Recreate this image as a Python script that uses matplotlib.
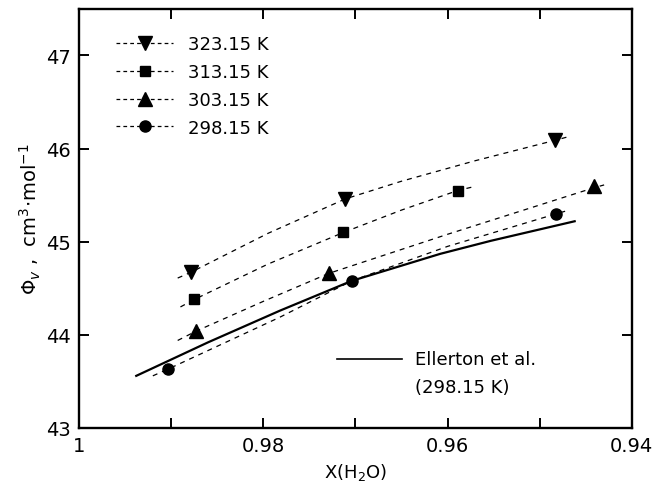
import numpy as np
import matplotlib
matplotlib.use("Agg")
import matplotlib.pyplot as plt
from matplotlib.lines import Line2D

# marker points
x_323 = [0.9879, 0.9711, 0.9483]
y_323 = [44.67, 45.46, 46.09]
x_313 = [0.9875, 0.9713, 0.9589]
y_313 = [44.38, 45.10, 45.55]
x_303 = [0.9873, 0.9729, 0.9441]
y_303 = [44.04, 44.66, 45.60]
x_298 = [0.9904, 0.9704, 0.9482]
y_298 = [43.63, 44.58, 45.30]

# dashed curves
cx_323 = [0.9893, 0.9879, 0.9795, 0.9711, 0.9650, 0.9570, 0.9483, 0.9468]
cy_323 = [44.61, 44.67, 45.09, 45.46, 45.65, 45.87, 46.09, 46.13]
cx_313 = [0.9890, 0.9875, 0.9795, 0.9713, 0.9650, 0.9589, 0.9572]
cy_313 = [44.30, 44.38, 44.76, 45.10, 45.34, 45.55, 45.59]
cx_303 = [0.9893, 0.9873, 0.9800, 0.9729, 0.9600, 0.9441, 0.9430]
cy_303 = [43.94, 44.04, 44.36, 44.66, 45.08, 45.58, 45.61]
cx_298 = [0.9920, 0.9904, 0.9782, 0.9704, 0.9600, 0.9482, 0.9468]
cy_298 = [43.56, 43.63, 44.19, 44.58, 44.95, 45.30, 45.34]

# Ellerton et al. (298.15 K)
ell_x = [0.9938, 0.9860, 0.9782, 0.9704, 0.9608, 0.9553, 0.9462]
ell_y = [43.56, 43.92, 44.26, 44.58, 44.87, 45.01, 45.22]

labels = ["323.15 K", "313.15 K", "303.15 K", "298.15 K"]

plt.rcParams['font.family'] = ['DejaVu Sans']
plt.rcParams['mathtext.fontset'] = 'dejavusans'

fig = plt.figure(figsize=(6.54, 4.89), dpi=100)
ax = fig.add_axes([0.121, 0.1227, 0.845, 0.857])

dash = (0, (4, 4))
series = [(cx_323, cy_323, x_323, y_323, 'v', 9.5),
          (cx_313, cy_313, x_313, y_313, 's', 7.5),
          (cx_303, cy_303, x_303, y_303, '^', 9.5),
          (cx_298, cy_298, x_298, y_298, 'o', 8)]
for cx, cy, mx, my, m, ms in series:
    ax.plot(cx, cy, color='black', lw=0.9, linestyle=dash)
    ax.plot(mx, my, linestyle='none', marker=m, color='black', ms=ms)

ax.plot(ell_x, ell_y, color='black', lw=1.6)

ax.set_xlim(1.0, 0.94)
ax.set_ylim(43, 47.5)
ax.set_xticks([1.0, 0.99, 0.98, 0.97, 0.96, 0.95, 0.94])
ax.set_xticklabels(['1', '', '0.98', '', '0.96', '', '0.94'])
ax.set_yticks([43, 44, 45, 46, 47])
ax.set_yticklabels(['43', '44', '45', '46', '47'])
ax.tick_params(direction='in', length=7, width=1.4, top=True, right=True,
               labelsize=14, pad=6)
for s in ax.spines.values():
    s.set_linewidth(1.7)

ax.set_xlabel(r'X(H$_2$O)', fontsize=13, labelpad=4)
ax.set_ylabel(r'$\Phi_v$ ,  cm$^3$$\cdot$mol$^{-1}$', fontsize=14, labelpad=2)

handles = []
for cx, cy, mx, my, m, ms in series:
    handles.append(Line2D([], [], color='black', lw=0.9, linestyle=(0, (3, 2.5)),
                          marker=m, ms=ms))
leg = ax.legend(handles, labels, loc='upper left', frameon=False, fontsize=13,
                handlelength=3.2, handletextpad=0.8, labelspacing=0.55,
                numpoints=1, bbox_to_anchor=(0.053, 0.955), borderaxespad=0)

ax.plot([0.9720, 0.9649], [43.74, 43.74], color='black', lw=1.2)
ax.text(0.9635, 43.74, 'Ellerton et al.', fontsize=13, va='center', ha='left')
ax.text(0.9635, 43.44, '(298.15 K)', fontsize=13, va='center', ha='left')

fig.savefig('out.png', dpi=100)
